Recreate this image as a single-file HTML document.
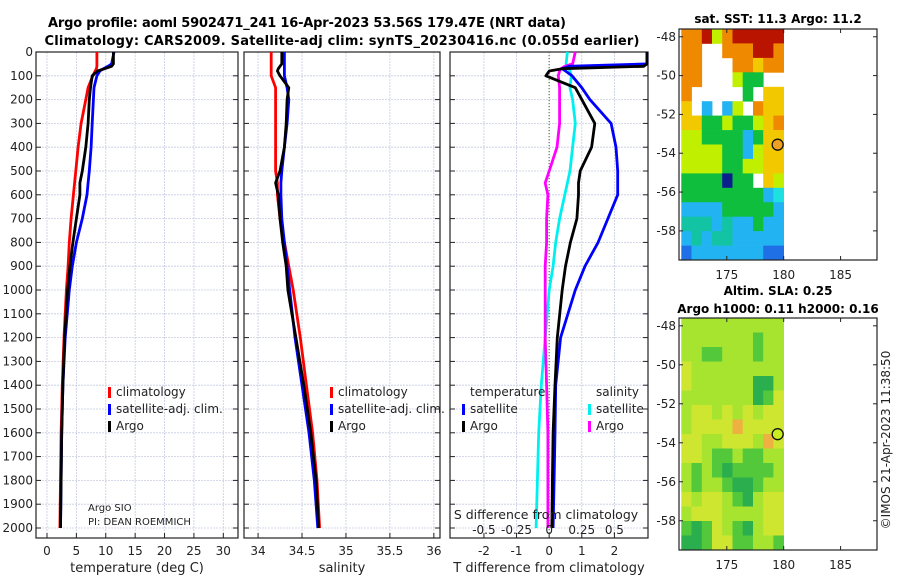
<!DOCTYPE html>
<html><head><meta charset="utf-8"><style>
body{margin:0;background:#fff;}
svg{display:block;font-family:"DejaVu Sans","Liberation Sans",sans-serif;}
</style></head><body>
<svg id="fig" width="900" height="580" viewBox="0 0 900 580">
<text x="307" y="27" text-anchor="middle" font-weight="bold" font-size="13" textLength="518">Argo profile: aoml 5902471_241 16-Apr-2023 53.56S 179.47E (NRT data)</text>
<text x="342" y="45" text-anchor="middle" font-weight="bold" font-size="13" textLength="595">Climatology: CARS2009. Satellite-adj clim: synTS_20230416.nc (0.055d earlier)</text>
<text x="778" y="23" text-anchor="middle" font-weight="bold" font-size="12">sat. SST: 11.3 Argo: 11.2</text>
<text x="778" y="295" text-anchor="middle" font-weight="bold" font-size="12">Altim. SLA: 0.25</text>
<text x="778" y="313" text-anchor="middle" font-weight="bold" font-size="12">Argo h1000: 0.11 h2000: 0.16</text>
<text transform="translate(890,440) rotate(-90)" text-anchor="middle" font-size="12" fill="#222">©IMOS 21-Apr-2023 11:38:50</text>
<g id="g"></g>
</svg>
<script>
// depth levels (m)
const depths=[0,50,60,70,80,100,150,200,300,400,500,550,600,700,800,900,1000,1200,1400,1600,1800,2000];
// temperature (deg C)
const tClim=[8.5,8.5,8.5,8.4,8.2,7.8,7.0,6.6,5.8,5.3,4.9,4.7,4.5,4.1,3.8,3.6,3.3,2.9,2.6,2.4,2.3,2.2];
const tSat=[11.4,11.0,10.4,9.6,9.0,8.5,8.0,7.9,7.7,7.5,7.2,7.0,6.8,6.0,5.0,4.3,3.8,3.1,2.7,2.5,2.4,2.3];
const tArgo=[11.3,11.3,11.0,9.8,8.6,7.7,7.4,7.2,7.0,6.6,6.0,5.6,5.6,5.0,4.4,3.9,3.5,3.0,2.7,2.5,2.4,2.3];
// salinity
const sClim=[34.15,34.15,34.15,34.15,34.15,34.15,34.2,34.2,34.2,34.2,34.2,34.22,34.22,34.25,34.3,34.35,34.4,34.48,34.55,34.62,34.67,34.7];
const sSat=[34.3,34.3,34.3,34.3,34.3,34.3,34.33,34.35,34.33,34.3,34.27,34.26,34.26,34.27,34.3,34.33,34.36,34.42,34.5,34.58,34.64,34.68];
const sArgo=[34.27,34.27,34.25,34.23,34.22,34.25,34.35,34.33,34.32,34.3,34.25,34.2,34.23,34.25,34.28,34.32,34.34,34.43,34.52,34.6,34.66,34.69];
// differences from climatology
const dTSat=[3.0,3.0,0.6,0.4,0.5,0.7,1.0,1.25,1.9,2.05,2.1,2.1,2.1,1.8,1.5,1.1,0.8,0.35,0.2,0.18,0.15,0.12];
const dTArgo=[3.0,3.0,2.9,0.4,0.0,-0.1,0.8,1.0,1.4,1.3,0.95,0.9,0.9,0.85,0.65,0.5,0.4,0.25,0.18,0.12,0.1,0.08];
const dSSat=[0.14,0.13,0.14,0.15,0.16,0.17,0.16,0.18,0.2,0.18,0.16,0.14,0.12,0.08,0.05,0.03,0.0,-0.03,-0.06,-0.08,-0.09,-0.1];
const dSArgo=[0.2,0.18,0.12,0.09,0.08,0.07,0.08,0.08,0.08,0.06,0.0,-0.03,-0.01,-0.02,-0.02,-0.03,-0.03,-0.03,-0.02,-0.01,-0.01,-0.01];
const depthTicks=[0,100,200,300,400,500,600,700,800,900,1000,1100,1200,1300,1400,1500,1600,1700,1800,1900,2000];
const tTicks=[0,5,10,15,20,25,30];
const sTicks=[34,34.5,35,35.5,36];
const dTTicks=[-2,-1,0,1,2];
const dSTicks=[-0.5,-0.25,0,0.25,0.5];
const dSTickLabels=["-0.5","-0.25","0","0.25","0.5"];
// SST map grid (levels), rows north->south, '.' = missing
const sstGrid=["5563566666","55..555665","55...55455","55...322..","5.....2.44","4.1.13.544","4422322345","3322221244","3333221344","3333223344","2222722.43","2222222219","1111222221","ccc1c11211","1c1cc11111","0111111100"];
const sstColors={"0":"#1f6fe6","1":"#22b4f2","c":"#12c3a4","2":"#0fbe3c","3":"#c0f000","4":"#f2c800","5":"#ef8a00","6":"#b81400","7":"#0a1e8c","9":"#1fe0e0"};
// SLA map grid
const slaGrid=["2222222222","2222222122","2211222122","3222222222","3222222002","2222222013","2332323233","2333343333","3322333243","3321121122","2121011112","2122100122","3233210233","2333222233","1013210233","0013311221"];
const slaColors={"0":"#2aae4e","1":"#52c83a","2":"#a6e430","3":"#cfe630","4":"#eeb040"};

const G=document.getElementById('g');const NS='http://www.w3.org/2000/svg';
function mk(tag,at,par){const e=document.createElementNS(NS,tag);for(const k in at)e.setAttribute(k,at[k]);(par||G).appendChild(e);return e;}
function txt(x,y,s,at,par){const e=mk('text',Object.assign({x:x,y:y,'font-size':12,fill:'#222'},at||{}),par);e.textContent=s;return e;}
const yTop=52,yBot=538;
const Y=d=>yTop+d*0.238;
function panel(x0,x1,xmin,xmax,name){
  const X=v=>x0+(v-xmin)/(xmax-xmin)*(x1-x0);
  const g=mk('g',{});
  
  
  return {X,g,x0,x1};
}
function frame(p,xt,xl){
  depthTicks.forEach(d=>{const l=mk('line',{x1:p.x0,x2:p.x1,y1:Y(d),y2:Y(d),stroke:'#c5cbe0','stroke-width':0.8,'stroke-dasharray':'2,1'},p.g);
    
    mk('line',{x1:p.x0,x2:p.x0+5,y1:Y(d),y2:Y(d),stroke:'#222'},p.g);mk('line',{x1:p.x1-5,x2:p.x1,y1:Y(d),y2:Y(d),stroke:'#222'},p.g);});
  xt.forEach((v,i)=>{const x=p.X(v);const l=mk('line',{x1:x,x2:x,y1:yTop,y2:yBot,stroke:'#c5cbe0','stroke-width':0.8,'stroke-dasharray':'2,1'},p.g);
    
    mk('line',{x1:x,x2:x,y1:yBot-5,y2:yBot,stroke:'#222'},p.g);
    const t=txt(x,555,xl?xl[i]:String(v),{'text-anchor':'middle'},p.g);});
  const r=mk('rect',{x:p.x0,y:yTop,width:p.x1-p.x0,height:yBot-yTop,fill:'none',stroke:'#222','stroke-width':1.2},p.g);
  
}
function line(p,vals,color,name,Xf){
  const X=Xf||p.X;
  const pts=vals.map((v,i)=>X(v).toFixed(1)+','+Y(depths[i]).toFixed(1)).join(' ');
  const e=mk('polyline',{points:pts,fill:'none',stroke:color,'stroke-width':2.8,'stroke-linejoin':'round'},p.g);
  
}
function legend(p,x,y,items){
  items.forEach((it,i)=>{const yy=y+i*17;mk('rect',{x:x,y:yy-9,width:3,height:11,fill:it[1]},p.g);
    const t=txt(x+8,yy,it[0],{'font-size':12},p.g);});
}
// Panel 1
const p1=panel(36,238,-1.87,32.5,'temperature-panel');
frame(p1,tTicks);
depthTicks.forEach(d=>{const t=txt(33,Y(d)+4,String(d),{'text-anchor':'end'});});
line(p1,tClim,'#f00','temp-climatology-line');line(p1,tSat,'#00f','temp-satellite-line');line(p1,tArgo,'#000','temp-argo-line');
legend(p1,108,396,[['climatology','#f00'],['satellite-adj. clim.','#00f'],['Argo','#000']]);
txt(88,511,'Argo SIO',{'font-size':10},p1.g);txt(88,525,'PI: DEAN ROEMMICH',{'font-size':10},p1.g);
let t1=txt(137,572,'temperature (deg C)',{'text-anchor':'middle','font-size':13});
// Panel 2
const p2=panel(244,440,33.84,36.07,'salinity-panel');
frame(p2,sTicks);
line(p2,sClim,'#f00','sal-climatology-line');line(p2,sSat,'#00f','sal-satellite-line');line(p2,sArgo,'#000','sal-argo-line');
legend(p2,330,396,[['climatology','#f00'],['satellite-adj. clim.','#00f'],['Argo','#000']]);
let t2=txt(342,572,'salinity',{'text-anchor':'middle','font-size':13});
// Panel 3
const p3=panel(450,648,-3.04,3.03,'difference-panel');
frame(p3,dTTicks);
const XS=v=>p3.X(v*4);
mk('line',{x1:p3.X(0),x2:p3.X(0),y1:yTop,y2:yBot,stroke:'#3a6a2a','stroke-width':1,'stroke-dasharray':'1,2'},p3.g);
line(p3,dSSat,'#00f0f0','sal-diff-satellite-line',XS);line(p3,dSArgo,'#f0f','sal-diff-argo-line',XS);
line(p3,dTSat,'#00f','temp-diff-satellite-line');line(p3,dTArgo,'#000','temp-diff-argo-line');
txt(470,396,'temperature',{'font-size':12},p3.g);txt(596,396,'salinity',{'font-size':12},p3.g);
legend(p3,462,413,[['satellite','#00f'],['Argo','#000']]);
legend(p3,588,413,[['satellite','#00f0f0'],['Argo','#f0f']]);
let t3=txt(546,519,'S difference from climatology',{'text-anchor':'middle','font-size':12.5});
dSTicks.forEach((v,i)=>{const t=txt(XS(v),534,dSTickLabels[i],{'text-anchor':'middle'});});
let t4=txt(549,572,'T difference from climatology',{'text-anchor':'middle','font-size':13});
// Maps
const lonMin=170.8,lonMax=188.2,latTop=-47.6,latBot=-59.5;
const latTicks=[-48,-50,-52,-54,-56,-58];const lonTicks=[175,180,185];
function map(y0,y1,grid,cols,name,markFill){
  const x0=679,x1=877;
  const X=v=>x0+(v-lonMin)/(lonMax-lonMin)*(x1-x0);
  const Ym=v=>y0+(latTop-v)/(latTop-latBot)*(y1-y0);
  const g=mk('g',{});
  const nr=grid.length,nc=grid[0].length;const lw=(180-171)/nc,lh=(latTop-latBot)/nr;
  grid.forEach((row,r)=>{for(let c=0;c<nc;c++){const ch=row[c];if(ch==='.')continue;
    const xa=X(171+c*lw),xb=X(171+(c+1)*lw),ya=Ym(latTop-r*lh),yb=Ym(latTop-(r+1)*lh);
    const cell=mk('rect',{x:xa.toFixed(1),y:ya.toFixed(1),width:(xb-xa+0.4).toFixed(1),height:(yb-ya+0.4).toFixed(1),fill:cols[ch]},g);
    }});
  const f=mk('rect',{x:x0,y:y0,width:x1-x0,height:y1-y0,fill:'none',stroke:'#222','stroke-width':1.2},g);
  
  latTicks.forEach(v=>{const y=Ym(v);mk('line',{x1:x0,x2:x0+4,y1:y,y2:y,stroke:'#222'},g);mk('line',{x1:x1-4,x2:x1,y1:y,y2:y,stroke:'#222'},g);
    const t=txt(676,y+4,String(v),{'text-anchor':'end'},g);});
  lonTicks.forEach(v=>{const x=X(v);mk('line',{x1:x,x2:x,y1:y1-4,y2:y1,stroke:'#222'},g);mk('line',{x1:x,x2:x,y1:y0,y2:y0+4,stroke:'#222'},g);
    const t=txt(x,y1+19,String(v),{'text-anchor':'middle'},g);});
  const m=mk('circle',{cx:X(179.47),cy:Ym(-53.56),r:5.5,fill:markFill,stroke:'#111','stroke-width':1.3},g);
  
}
map(29,260,sstGrid,sstColors,'sst-map','#f0a020');
map(318,550,slaGrid,slaColors,'sla-map','#c8ee20');
</script>
</body></html>
